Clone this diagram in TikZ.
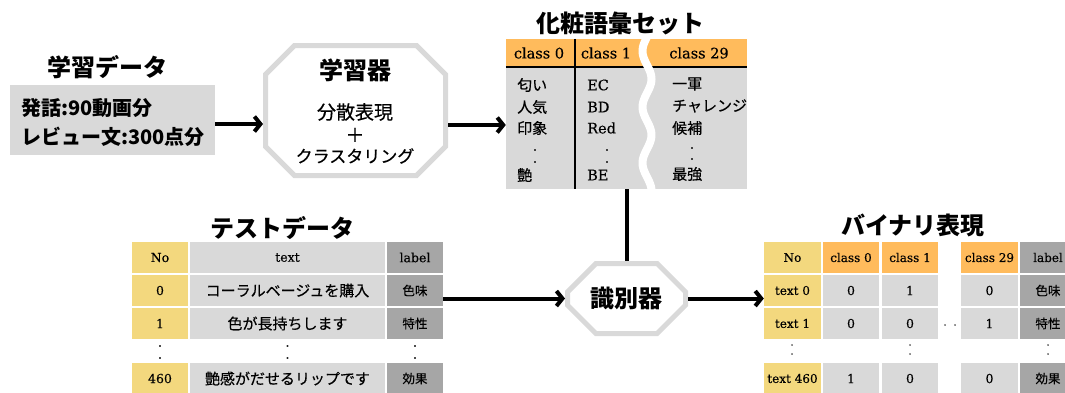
\documentclass[tikz,border=0pt]{standalone}
\usepackage{fontspec}
\newfontfamily\jp{Noto Sans CJK JP}
\newfontfamily\jpm[FakeBold=0.4]{Noto Sans CJK JP}
\newfontfamily\sr[FakeBold=0.3]{DejaVu Serif}
\usetikzlibrary{arrows.meta,shapes.misc}
\definecolor{lg}{HTML}{D9D9D9}
\definecolor{dg}{HTML}{A6A6A6}
\definecolor{yl}{HTML}{F3D87E}
\definecolor{og}{HTML}{FFBB5C}
\begin{document}
\begin{tikzpicture}[x=1pt,y=-1pt,
  title/.style={font=\jp\bfseries\fontsize{24}{24}\selectfont, inner sep=0},
  conn/.style={line width=4pt},
  arr/.style={line width=4pt,-{Straight Barb[length=6pt,width=15pt]}},
  octline/.style={draw=lg, line width=5pt, fill=white},
  octa/.style={chamfered rectangle, octline, inner sep=0},
  cell/.style={inner sep=0, minimum height=31pt},
  ycell/.style={cell, fill=yl},
  gcell/.style={cell, fill=lg},
  dcell/.style={cell, fill=dg},
  ocell/.style={cell, fill=og},
  rmh/.style={font=\sr\fontsize{12.5}{12.5}\selectfont},
  rmb/.style={font=\sr\fontsize{12}{12}\selectfont},
  rmd/.style={font=\sr\fontsize{12.5}{12.5}\selectfont},
  jpt/.style={font=\jpm\fontsize{15}{15}\selectfont},
  jpl/.style={font=\jpm\fontsize{12.5}{12.5}\selectfont},
  vrm/.style={anchor=west, inner sep=0, font=\sr\fontsize{14.5}{14.5}\selectfont},
  vjp/.style={anchor=west, inner sep=0, font=\jpm\fontsize{15}{15}\selectfont},
  vhd/.style={inner sep=0, font=\sr\fontsize{14.5}{14.5}\selectfont},
  dot/.style={inner sep=0, font=\sr\fontsize{12}{12}\selectfont},
  sdot/.style={inner sep=0, font=\sr\fontsize{9}{9}\selectfont},
]
\useasboundingbox (0,0) rectangle (1065,392);

% ---------- training data ----------
\node[title] (t1) at (107,67) {学習データ};
\node[fill=lg, minimum width=205pt, minimum height=70pt, inner sep=0] (lbox) at (112.5,120) {};
\node[anchor=west, inner sep=0, font=\jp\bfseries\fontsize{20}{20}\selectfont] (l1) at (21,108) {発話:90動画分};
\node[anchor=west, inner sep=0, font=\jp\bfseries\fontsize{20}{20}\selectfont] (l2) at (21,137) {レビュー文:300点分};

% ---------- learner ----------
\node[minimum width=185pt, minimum height=135pt, inner sep=0, outer sep=0] (learner) at (355.5,110.5) {};
\draw[octline] (learner.north west) ++(31.5,2.5) -- ++(122,0) -- ++(29,29) -- ++(0,72)
  -- ++(-29,29) -- ++(-122,0) -- ++(-29,-29) -- ++(0,-72) -- cycle;
\node[title] (lt) at (355,70) {学習器};
\node[inner sep=0, font=\jpm\fontsize{19}{19}\selectfont] (lt2) at (355,112) {分散表現};
\node[inner sep=0, font=\jpm\fontsize{19}{19}\selectfont] (lt3) at (355,135) {＋};
\node[inner sep=0, font=\jpm\fontsize{17}{17}\selectfont] (lt4) at (355,156) {クラスタリング};

\coordinate (ya) at (0,124);
\draw[arr] (lbox.east |- ya) -- (learner.west |- ya);

% ---------- vocabulary set ----------
\node[title] (t2) at (620,23) {化粧語彙セット};
\node[fill=og, minimum width=241pt, minimum height=28pt, inner sep=0] (vh) at (626.5,53) {};
\node[fill=lg, minimum width=241pt, minimum height=122pt, inner sep=0] (vb) at (626.5,128) {};
\draw[line width=2pt] (vh.south west) -- (vh.south east);
\coordinate (vsep) at (575,0);
\draw[line width=2pt] (vh.north -| vsep) -- (vb.south -| vsep);
\draw[white, line width=8pt] plot[smooth, domain=36:193, samples=70, variable=\t]
  ({647-4.5*sin((\t-37)*6.4286)}, \t);

\coordinate (yb) at (0,125);
\draw[arr] (learner.east |- yb) -- (vb.west |- yb);

\node[vhd] (h0) at (539,53) {class 0};
\node[vhd] (h1) at (606,53) {class 1};
\node[vhd] (h29) at (699,53) {class 29};

\node[vjp] (a1) at (517,85) {匂い};
\node[vjp] (a2) at (517,107) {人気};
\node[vjp] (a3) at (517,128) {印象};
\node[dot] (a4) at (535,150) {.};
\node[dot] (a5) at (535,162) {.};
\node[vjp] (a6) at (517,175) {艶};

\node[vrm] (b1) at (587,85) {EC};
\node[vrm] (b2) at (587,107) {BD};
\node[vrm] (b3) at (587,128) {Red};
\node[dot] (b4) at (607,150) {.};
\node[dot] (b5) at (607,162) {.};
\node[vrm] (b6) at (587,175) {BE};

\node[vjp] (c1) at (672,84) {一軍};
\node[vjp] (c2) at (672,106) {チャレンジ};
\node[vjp] (c3) at (672,128) {候補};
\node[dot] (c4) at (692,148) {.};
\node[dot] (c5) at (692,159) {.};
\node[vjp] (c6) at (672,174) {最強};

% ---------- classifier ----------
\node[octa, chamfered rectangle xsep=14pt, chamfered rectangle ysep=17pt,
      minimum width=118pt, minimum height=70pt,
      font=\jp\bfseries\fontsize{24}{24}\selectfont] (cls) at (626.5,298.5) {識別器};
\draw[conn] (cls.north |- vb.south) -- (cls.north);

% ---------- test data ----------
\node[title] (t3) at (282,228) {テストデータ};
\node[ycell, minimum width=56pt, rmh] (tn) at (160,257.5) {No};
\node[gcell, minimum width=195pt, rmh] (tt) at (287.5,257.5) {text};
\node[dcell, minimum width=56pt, rmh] (tl) at (415,257.5) {label};

\node[ycell, minimum width=56pt, rmd] (tn0) at (160,290.5) {0};
\node[gcell, minimum width=195pt, jpt] (tt0) at (287.5,290.5) {コーラルベージュを購入};
\node[dcell, minimum width=56pt, jpl] (tl0) at (415,290.5) {色味};

\node[ycell, minimum width=56pt, rmd] (tn1) at (160,323.5) {1};
\node[gcell, minimum width=195pt, jpt] (tt1) at (287.5,323.5) {色が長持ちします};
\node[dcell, minimum width=56pt, jpl] (tl1) at (415,323.5) {特性};

\node[dot] (td1) at (160,346) {.};
\node[dot] (td2) at (160,358) {.};
\node[dot] (td3) at (287.5,346) {.};
\node[dot] (td4) at (287.5,358) {.};
\node[dot] (td5) at (415,346) {.};
\node[dot] (td6) at (415,358) {.};

\node[ycell, minimum width=56pt, rmd] (tn2) at (160,378.5) {460};
\node[gcell, minimum width=195pt, jpt] (tt2) at (287.5,378.5) {艶感がだせるリップです};
\node[dcell, minimum width=56pt, jpl] (tl2) at (415,378.5) {効果};

\draw[arr] (tl0.east |- cls.west) -- (cls.west);

% ---------- binary representation ----------
\node[title] (t4) at (913,225) {バイナリ表現};
\node[ycell, minimum width=57pt, rmb] (bn) at (792.5,257.5) {No};
\node[ocell, minimum width=56pt, rmb] (bc0) at (851,257.5) {class 0};
\node[ocell, minimum width=56pt, rmb] (bc1) at (910,257.5) {class 1};
\node[ocell, minimum width=57pt, rmb] (bc29) at (989.5,257.5) {class 29};
\node[dcell, minimum width=56pt, rmb] (bl) at (1048,257.5) {label};

\node[ycell, minimum width=57pt, rmb] (bn0) at (792.5,290.5) {text 0};
\node[gcell, minimum width=56pt, rmd] (b00) at (851,290.5) {0};
\node[gcell, minimum width=56pt, rmd] (b01) at (910,290.5) {1};
\node[gcell, minimum width=57pt, rmd] (b029) at (989.5,290.5) {0};
\node[dcell, minimum width=56pt, jpl] (bl0) at (1048,290.5) {色味};

\node[ycell, minimum width=57pt, rmb] (bn1) at (792.5,323.5) {text 1};
\node[gcell, minimum width=56pt, rmd] (b10) at (851,323.5) {0};
\node[gcell, minimum width=56pt, rmd] (b11) at (910,323.5) {0};
\node[gcell, minimum width=57pt, rmd] (b129) at (989.5,323.5) {1};
\node[dcell, minimum width=56pt, jpl] (bl1) at (1048,323.5) {特性};
\node[sdot] (bd1) at (945,325) {.};
\node[sdot] (bd2) at (955,325) {.};

\node[sdot] (bd3) at (792,345) {.};
\node[sdot] (bd4) at (792,354) {.};
\node[sdot] (bd5) at (910,345) {.};
\node[sdot] (bd6) at (910,354) {.};
\node[sdot] (bd7) at (1048,345) {.};
\node[sdot] (bd8) at (1048,354) {.};

\node[ycell, minimum width=57pt, rmb] (bn2) at (792.5,378.5) {text 460};
\node[gcell, minimum width=56pt, rmd] (b20) at (851,378.5) {1};
\node[gcell, minimum width=56pt, rmd] (b21) at (910,378.5) {0};
\node[gcell, minimum width=57pt, rmd] (b229) at (989.5,378.5) {0};
\node[dcell, minimum width=56pt, jpl] (bl2) at (1048,378.5) {効果};

\draw[arr] (cls.east) -- (bn0.west |- cls.east);
\end{tikzpicture}
\end{document}
